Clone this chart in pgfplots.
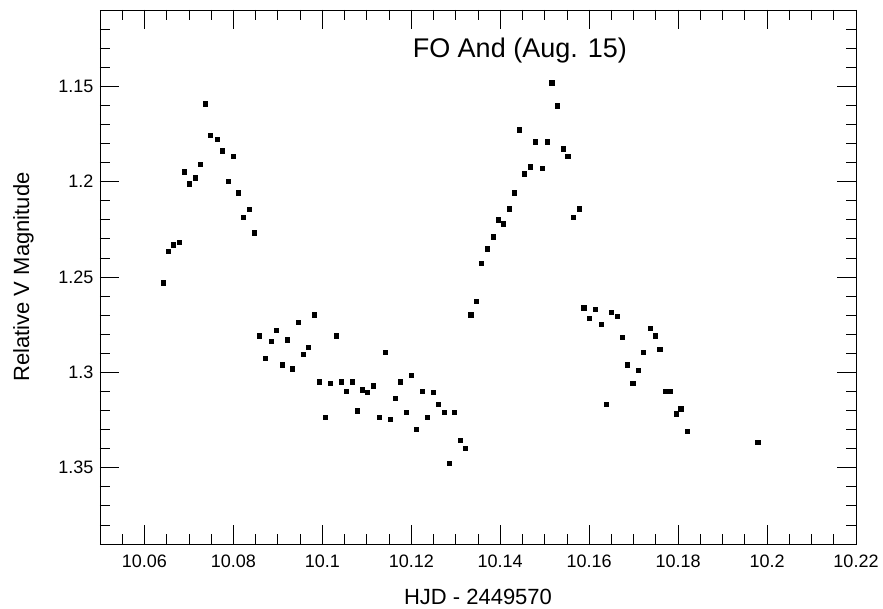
\documentclass[border=0pt]{standalone}
\usepackage{pgfplots}
\pgfplotsset{compat=1.18}
\usepackage{fontspec}
\setmainfont{Liberation Sans}

\pgfplotstableread{
hjd vmag
10.0642 1.2529
10.0653 1.2366
10.0665 1.2330
10.0678 1.2319
10.0689 1.1947
10.0701 1.2010
10.0714 1.1979
10.0725 1.1910
10.0737 1.1591
10.0748 1.1758
10.0764 1.1779
10.0775 1.1837
10.0788 1.1999
10.0800 1.1868
10.0811 1.2057
10.0822 1.2188
10.0836 1.2146
10.0847 1.2267
10.0858 1.2807
10.0871 1.2927
10.0885 1.2838
10.0896 1.2780
10.0910 1.2959
10.0921 1.2828
10.0932 1.2980
10.0946 1.2738
10.0957 1.2906
10.0968 1.2869
10.0982 1.2697
10.0993 1.3048
10.1006 1.3236
10.1017 1.3058
10.1031 1.2807
10.1042 1.3048
10.1053 1.3100
10.1067 1.3048
10.1078 1.3200
10.1089 1.3090
10.1101 1.3105
10.1114 1.3069
10.1128 1.3236
10.1141 1.2895
10.1152 1.3247
10.1164 1.3137
10.1175 1.3048
10.1188 1.3210
10.1200 1.3016
10.1211 1.3299
10.1224 1.3100
10.1236 1.3236
10.1249 1.3105
10.1260 1.3168
10.1274 1.3210
10.1285 1.3477
10.1296 1.3210
10.1310 1.3357
10.1321 1.3399
10.1334 1.2697
10.1346 1.2628
10.1357 1.2429
10.1371 1.2351
10.1384 1.2288
10.1395 1.2199
10.1406 1.2220
10.1420 1.2141
10.1431 1.2057
10.1442 1.1727
10.1454 1.1958
10.1467 1.1921
10.1478 1.1790
10.1494 1.1931
10.1505 1.1790
10.1516 1.1481
10.1528 1.1601
10.1541 1.1827
10.1552 1.1868
10.1564 1.2188
10.1577 1.2141
10.1588 1.2660
10.1600 1.2717
10.1613 1.2670
10.1627 1.2749
10.1638 1.3168
10.1649 1.2686
10.1663 1.2707
10.1674 1.2817
10.1685 1.2959
10.1698 1.3058
10.1710 1.2990
10.1721 1.2895
10.1737 1.2770
10.1748 1.2807
10.1759 1.2880
10.1771 1.3100
10.1782 1.3100
10.1795 1.3216
10.1806 1.3190
10.1820 1.3310
10.1979 1.3367
}\fodata

\begin{document}
\begin{tikzpicture}
\begin{axis}[
    at={(0pt,0pt)}, anchor=south west,
    scale only axis,
    width=756pt, height=534pt,
    xmin=10.05, xmax=10.22,
    ymin=1.11, ymax=1.39,
    y dir=reverse,
    xtick={10.06,10.08,...,10.221},
    ytick={1.15,1.2,1.25,1.3,1.35},
    minor xtick={10.055,10.06,...,10.216},
    minor ytick={1.11,1.12,...,1.385},
    tick align=inside,
    major tick length=19pt,
    minor tick length=10pt,
    axis line style={line width=0.8pt},
    every tick/.style={black, line width=0.8pt},
    /pgf/number format/assume math mode=true,
    ticklabel style={font=\fontsize{18}{20}\selectfont},
    xticklabel style={yshift=-7pt},
    yticklabel style={xshift=-3pt},
    xlabel={HJD - 2449570},
    ylabel={Relative V Magnitude},
    label style={font=\fontsize{22}{24}\selectfont},
    xlabel style={at={(axis description cs:0.5,-0.1142)}, anchor=base},
    ylabel style={at={(axis description cs:-0.0939,0.5)}, anchor=base},
]
\addplot[only marks, mark=square*, mark size=2.2pt, black] table[x=hjd, y=vmag] {\fodata};
\node[anchor=base, font=\fontsize{27}{30}\selectfont] at (axis cs:10.1444,1.1348) {FO And (Aug. 15)};
\end{axis}
\pgfresetboundingbox
\useasboundingbox (-100pt,-65pt) rectangle (783pt,544pt);
\end{tikzpicture}
\end{document}
